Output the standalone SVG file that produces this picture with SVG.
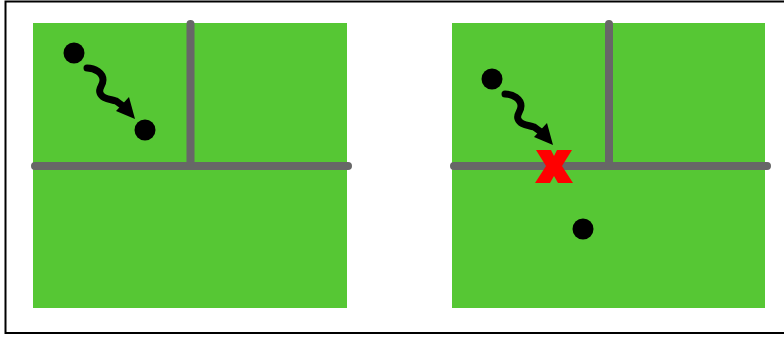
<svg xmlns="http://www.w3.org/2000/svg" width="784" height="340" viewBox="0 0 784 340">
  <style>
    .room { fill: #56c734; }
    .wall { stroke: #676767; stroke-width: 8; stroke-linecap: round; fill: none; }
    .dot { fill: #000; }
    .wave { stroke: #000; stroke-width: 7; fill: none; stroke-linecap: round; }
    .head { fill: #000; }
    .cross { fill: #ff0000; }
  </style>
  <defs>
    <g id="squiggle">
      <path class="wave" d="M87,68 C95,68 103,73 103,80 C103,86 98,88 100,93 C102,99 110,99 116,101 L123,106"/>
      <polygon class="head" points="135,119 116,111 129,97"/>
    </g>
  </defs>
  <rect x="5.5" y="1.5" width="780" height="331.5" fill="#fff" stroke="#000" stroke-width="2"/>
  <g id="left-panel">
    <rect class="room" x="33" y="23" width="314" height="285"/>
    <path class="wall" d="M35,166 L348,166 M190.5,24 L190.5,166"/>
    <circle class="dot" cx="74" cy="53" r="10.5"/>
    <circle class="dot" cx="145" cy="130" r="10.5"/>
  </g>
  <g id="right-panel">
    <rect class="room" x="452" y="23" width="313" height="285"/>
    <path class="wall" d="M454,166 L767,166 M609,24 L609,166"/>
    <circle class="dot" cx="492" cy="79" r="10.5"/>
    <circle class="dot" cx="583" cy="229" r="10.5"/>
    <polygon class="cross" points="536,150 551,150 554,156 557,150 572,150 562,166 573,183 558,183 554,176 550,183 535,183 546,166"/>
  </g>
  <g id="connectors">
    <use href="#squiggle"/>
    <use href="#squiggle" transform="translate(418,26)"/>
  </g>
</svg>
